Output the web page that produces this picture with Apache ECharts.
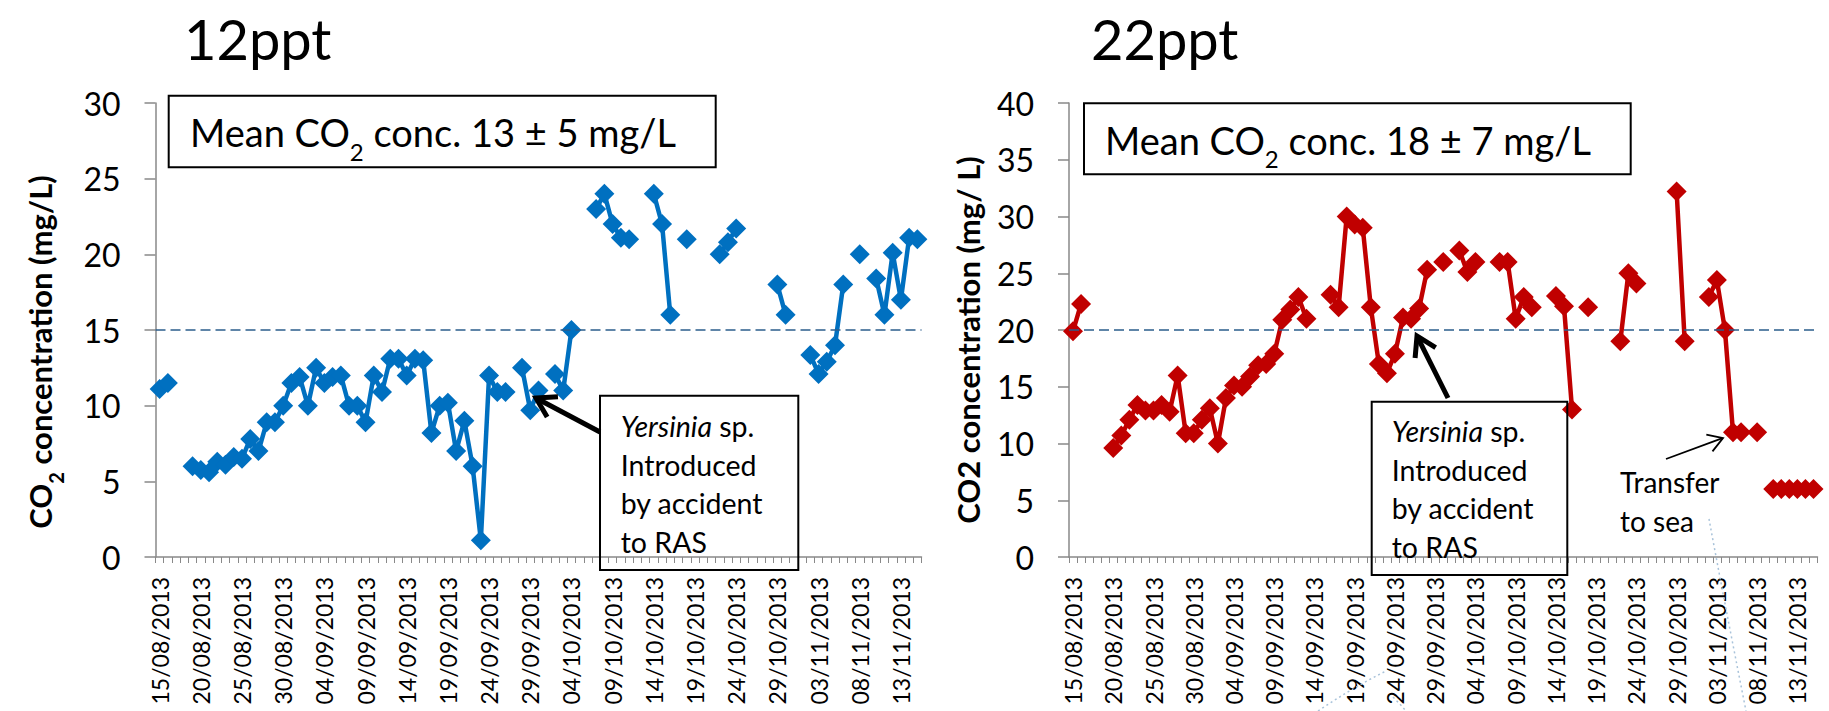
<!DOCTYPE html>
<html>
<head>
<meta charset="utf-8">
<script src="https://cdn.jsdelivr.net/npm/echarts@6/dist/echarts.min.js"></script>
<style>
html,body{margin:0;padding:0;background:#fff;}
#c{width:1829px;height:711px;}
</style>
</head>
<body>
<div id="c"></div>
<script>
// ---- categories: one per day, 15/08/2013 .. 15/11/2013 ----
const firstDay = { y: 2013, m: 8, d: 15 };
const dayCount = 93;
const dates = [];
for (let i = 0; i < dayCount; i++) {
  const t = new Date(Date.UTC(firstDay.y, firstDay.m - 1, firstDay.d + i));
  const dd = String(t.getUTCDate()).padStart(2, '0');
  const mm = String(t.getUTCMonth() + 1).padStart(2, '0');
  dates.push(dd + '/' + mm + '/' + t.getUTCFullYear());
}

// ---- CO2 (mg/L) per day, null = no measurement ----
const co2_12ppt = [
  11.1, 11.5, null, null, 6.0, 5.75, 5.6, 6.3, 6.1, 6.6,
  6.5, 7.8, 7.0, 8.9, 8.9, 10.0, 11.5, 11.9, 10.0, 12.5,
  11.5, 11.9, 12.0, 10.0, 10.0, 8.9, 12.0, 10.9, 13.1, 13.1,
  12.0, 13.1, 13.0, 8.2, 10.0, 10.2, 7.0, 9.0, 6.0, 1.1,
  12.0, 10.9, 10.9, null, 12.5, 9.7, 11.0, null, 12.1, 11.0,
  15.0, null, null, 23.0, 24.0, 22.0, 21.1, 21.0, null, null,
  24.0, 22.0, 16.0, null, 21.0, null, null, null, 20.0, 20.8,
  21.7, null, null, null, null, 18.0, 16.0, null, null, 13.35,
  12.1, 12.9, 14.0, 18.0, null, 20.0, null, 18.4, 16.0, 20.1,
  17.0, 21.1, 21.0
];
const co2_22ppt = [
  19.9, 22.3, null, null, null, 9.6, 10.7, 12.1, 13.4, 12.9,
  12.9, 13.4, 12.8, 16.0, 10.9, 10.9, 12.1, 13.1, 10.0, 14.0,
  15.1, 15.0, 15.9, 16.9, 17.0, 17.9, 20.9, 21.8, 22.9, 21.0,
  null, null, 23.1, 22.0, 30.0, 29.3, 29.0, 22.0, 17.0, 16.2,
  17.9, 21.1, 21.0, 21.9, 25.3, null, 26.0, null, 27.0, 25.1,
  26.0, null, null, 26.0, 26.0, 21.0, 22.9, 22.0, null, null,
  23.0, 22.1, 13.0, null, 22.0, null, null, null, 19.0, 25.0,
  24.1, null, null, null, null, 32.2, 19.0, null, null, 22.9,
  24.4, 20.0, 11.0, 11.0, null, 11.0, null, 6.0, 6.0, 6.0,
  6.0, 6.0, 6.0
];
const refLevel12 = 15;
const refLevel22 = 20;
const yMax12 = 30;
const yMax22 = 40;
const yStep = 5;
const panelTitles = ['12ppt', '22ppt'];
const meanTexts = ['13 ± 5 mg/L', '18 ± 7 mg/L'];

// ---- styling ----
const FONT = 'Lato, "Open Sans", sans-serif';
const AXIS_GREY = '#898989';
const BLUE = '#0070C0';
const RED = '#C00000';
const DASH = '#2B5D8C';
const FAINT = '#A9C3DA';

const chart = echarts.init(document.getElementById('c'), null, { renderer: 'svg' });

function xAxisCfg(gi) {
  return {
    type: 'category', gridIndex: gi, data: dates, boundaryGap: true,
    axisLine: { lineStyle: { color: AXIS_GREY, width: 1.5 } },
    axisTick: { show: true, interval: 0, length: 6, lineStyle: { color: AXIS_GREY, width: 1 } },
    axisLabel: { interval: 4, rotate: 90, fontSize: 23, color: '#000', fontFamily: FONT, margin: 20 },
    splitLine: { show: false }
  };
}
function yAxisCfg(gi, max) {
  return {
    type: 'value', gridIndex: gi, min: 0, max: max, interval: yStep,
    axisLine: { show: true, lineStyle: { color: AXIS_GREY, width: 1.5 } },
    axisTick: { show: true, length: 11, lineStyle: { color: AXIS_GREY, width: 1.5 } },
    axisLabel: { fontSize: 32, color: '#000', fontFamily: FONT, margin: 35 },
    splitLine: { show: false }
  };
}
function seriesCfg(gi, data, color, ref) {
  return {
    type: 'line', xAxisIndex: gi, yAxisIndex: gi, data: data,
    symbol: 'diamond', symbolSize: 20, showSymbol: true, showAllSymbol: true,
    connectNulls: false, animation: false,
    lineStyle: { color: color, width: 4.5 },
    itemStyle: { color: color },
    z: 3,
    markLine: {
      silent: true, symbol: 'none', animation: false,
      label: { show: false },
      lineStyle: { color: DASH, type: [10, 5], width: 1.5 },
      data: [{ yAxis: ref }]
    }
  };
}

function arrow(tipX, tipY, tailX, tailY, arm, lw) {
  const dx = tailX - tipX, dy = tailY - tipY;
  const len = Math.sqrt(dx * dx + dy * dy);
  const ux = dx / len, uy = dy / len;
  const a = 0.55;
  const p1 = [tipX + arm * (ux * Math.cos(a) - uy * Math.sin(a)), tipY + arm * (ux * Math.sin(a) + uy * Math.cos(a))];
  const p2 = [tipX + arm * (ux * Math.cos(-a) - uy * Math.sin(-a)), tipY + arm * (ux * Math.sin(-a) + uy * Math.cos(-a))];
  return [
    { type: 'line', shape: { x1: tailX, y1: tailY, x2: tipX + ux * lw * 0.3, y2: tipY + uy * lw * 0.3 }, style: { stroke: '#000', lineWidth: lw }, z: 10 },
    { type: 'polyline', shape: { points: [p1, [tipX, tipY], p2] }, style: { stroke: '#000', lineWidth: lw, fill: null, lineJoin: 'miter' }, z: 10 }
  ];
}

const richMean = {
  t: { fontSize: 38, fontFamily: FONT, color: '#000', lineHeight: 44 },
  s: { fontSize: 24, fontFamily: FONT, color: '#000', lineHeight: 62, verticalAlign: 'bottom' }
};
const richAxis = {
  t: { fontSize: 31, fontWeight: 'bold', fontFamily: FONT, color: '#000', lineHeight: 38 },
  s: { fontSize: 20, fontWeight: 'bold', fontFamily: FONT, color: '#000', lineHeight: 52, verticalAlign: 'bottom' }
};
const richBox = {
  i: { fontSize: 28.5, fontStyle: 'italic', fontFamily: FONT, color: '#000', lineHeight: 38.5 },
  n: { fontSize: 28.5, fontFamily: FONT, color: '#000', lineHeight: 38.5 }
};

function faintCurve(x1, y1, cx, cy, x2, y2) {
  return { type: 'bezierCurve', z: 1, shape: { x1: x1, y1: y1, cpx1: cx, cpy1: cy, x2: x2, y2: y2 },
    style: { fill: null, stroke: FAINT, lineWidth: 1.5, lineDash: [2, 3] } };
}

const graphics = [
  // titles
  { type: 'text', x: 184, y: 38, style: { text: panelTitles[0], fontSize: 56, fontFamily: FONT, fill: '#000', verticalAlign: 'middle' } },
  { type: 'text', x: 1091, y: 38, style: { text: panelTitles[1], fontSize: 56, fontFamily: FONT, fill: '#000', verticalAlign: 'middle' } },
  // axis names
  { type: 'text', x: 40, y: 352, rotation: Math.PI / 2,
    style: { text: '{t|CO}{s|2}{t| concentration (mg/L)}', rich: richAxis, align: 'center', verticalAlign: 'middle' } },
  { type: 'text', x: 968, y: 340, rotation: Math.PI / 2,
    style: { text: 'CO2 concentration (mg/ L)', fontSize: 31, fontWeight: 'bold', fontFamily: FONT, fill: '#000', align: 'center', verticalAlign: 'middle' } },
  // mean boxes
  { type: 'rect', shape: { x: 168.7, y: 95.7, width: 547, height: 71.6 }, style: { fill: '#fff', stroke: '#000', lineWidth: 2 }, z: 5 },
  { type: 'text', x: 190, y: 132, z: 6,
    style: { text: '{t|Mean CO}{s|2}{t| conc. ' + meanTexts[0] + '}', rich: richMean, verticalAlign: 'middle' } },
  { type: 'rect', shape: { x: 1084, y: 103.3, width: 546.7, height: 71 }, style: { fill: '#fff', stroke: '#000', lineWidth: 2 }, z: 5 },
  { type: 'text', x: 1105, y: 139.5, z: 6,
    style: { text: '{t|Mean CO}{s|2}{t| conc. ' + meanTexts[1] + '}', rich: richMean, verticalAlign: 'middle' } },
  // Yersinia boxes
  { type: 'rect', shape: { x: 600, y: 395.7, width: 198.3, height: 174.3 }, style: { fill: 'none', stroke: '#000', lineWidth: 2 }, z: 5 },
  { type: 'text', x: 620.7, y: 407, z: 6,
    style: { text: '{i|Yersinia}{n| sp.}\n{n|Introduced}\n{n|by accident}\n{n|to RAS}', rich: richBox, verticalAlign: 'top' } },
  { type: 'rect', shape: { x: 1371.7, y: 401.7, width: 195.6, height: 173.3 }, style: { fill: 'none', stroke: '#000', lineWidth: 2 }, z: 5 },
  { type: 'text', x: 1391.7, y: 412, z: 6,
    style: { text: '{i|Yersinia}{n| sp.}\n{n|Introduced}\n{n|by accident}\n{n|to RAS}', rich: richBox, verticalAlign: 'top' } },
  // transfer to sea
  { type: 'text', x: 1620, y: 463, z: 6,
    style: { text: 'Transfer\nto sea', fontSize: 28, fontFamily: FONT, fill: '#000', lineHeight: 38.5, verticalAlign: 'top' } },
  // faint slide artefacts
  faintCurve(1318, 711, 1352, 688, 1386, 671),
  faintCurve(1393, 697, 1400, 704, 1406, 711),
  faintCurve(1709, 519, 1724, 600, 1746, 711)
]
  .concat(arrow(536, 398, 600, 432, 22, 5))
  .concat(arrow(1417, 336, 1448, 398, 22, 5))
  .concat(arrow(1723, 438, 1666, 459, 17, 1.8));

chart.setOption({
  animation: false,
  backgroundColor: '#fff',
  grid: [
    { left: 155.5, top: 103, width: 766, height: 454 },
    { left: 1069, top: 103, width: 748.5, height: 454 }
  ],
  xAxis: [xAxisCfg(0), xAxisCfg(1)],
  yAxis: [yAxisCfg(0, yMax12), yAxisCfg(1, yMax22)],
  series: [
    seriesCfg(0, co2_12ppt, BLUE, refLevel12),
    seriesCfg(1, co2_22ppt, RED, refLevel22)
  ],
  graphic: graphics
});
</script>
</body>
</html>
